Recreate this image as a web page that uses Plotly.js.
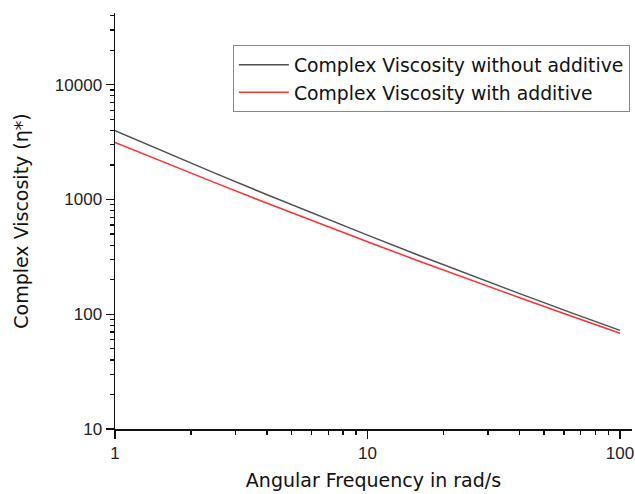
<!DOCTYPE html>
<html>
<head>
<meta charset="utf-8">
<script src="https://cdn.plot.ly/plotly-3.0.1.min.js"></script>
<style>html,body{margin:0;padding:0;background:#fff;}#chart{width:635px;height:494px;}</style>
</head>
<body>
<div id="chart"></div>
<script>
// Angular frequency (rad/s)
const frequency = [1, 1.585, 2.512, 3.981, 6.310, 10, 15.85, 25.12, 39.81, 63.10, 100];
// Complex viscosity without additive
const viscWithout = [3970, 2574, 1680, 1105, 732, 489, 328.6, 222.6, 151.9, 104.4, 72.3];
// Complex viscosity with additive
const viscWith = [3140, 2082, 1388, 932, 630, 428, 292.9, 201.6, 139.8, 97.4, 68.4];
const seriesNames = ["Complex Viscosity without additive", "Complex Viscosity with additive"];
const xTickVals = [1, 10, 100];
const xTickText = ["1", "10", "100"];
const yTickVals = [10, 100, 1000, 10000];
const yTickText = ["10", "100", "1000", "10000"];

function minorVals(lo, hi) {
  const out = [];
  for (let d = lo; d < hi; d++) {
    for (let k = 2; k <= 9; k++) out.push(k * Math.pow(10, d));
  }
  return out;
}

const tickFont = "Liberation Sans, Arial, sans-serif";
const textFont = "DejaVu Sans, Verdana, sans-serif";
const traces = [
  {x: frequency, y: viscWithout, name: seriesNames[0], type: "scatter", mode: "lines",
   line: {color: "#505050", width: 1.5}},
  {x: frequency, y: viscWith, name: seriesNames[1], type: "scatter", mode: "lines",
   line: {color: "#ff3030", width: 1.5}}
];
const layout = {
  width: 635, height: 494,
  margin: {l: 115, r: 3, t: 13, b: 65},
  paper_bgcolor: "#fff", plot_bgcolor: "#fff",
  font: {family: tickFont, color: "#222"},
  showlegend: true,
  legend: {x: 0.228, y: 0.923, xanchor: "left", yanchor: "top",
    bordercolor: "#888", borderwidth: 1, bgcolor: "#fff", itemwidth: 50,
    font: {family: textFont, size: 18.8, color: "#111"}, tracegroupgap: 0},
  xaxis: {type: "log", range: [0, 2.0475], showgrid: false, zeroline: false,
    showline: true, linecolor: "#111", linewidth: 1.5,
    ticks: "outside", ticklen: 8, tickwidth: 1.3, tickcolor: "#111",
    tickmode: "array", tickvals: xTickVals, ticktext: xTickText,
    ticklabeloverflow: "allow",
    tickfont: {family: tickFont, size: 17, color: "#222"},
    minor: {ticks: "outside", ticklen: 4, tickwidth: 1.2, tickcolor: "#111",
      tickmode: "array", tickvals: minorVals(0, 2), showgrid: false},
    title: {text: "Angular Frequency in rad/s", font: {family: textFont, size: 19, color: "#111"}, standoff: 12}},
  yaxis: {type: "log", range: [1, 4.625], showgrid: false, zeroline: false,
    showline: true, linecolor: "#111", linewidth: 1.5,
    ticks: "outside", ticklen: 8, tickwidth: 1.3, tickcolor: "#111",
    tickmode: "array", tickvals: yTickVals, ticktext: yTickText,
    tickfont: {family: tickFont, size: 17, color: "#222"},
    minor: {ticks: "outside", ticklen: 4, tickwidth: 1.2, tickcolor: "#111",
      tickmode: "array", tickvals: minorVals(1, 5), showgrid: false},
    title: {text: "Complex Viscosity (η*)", font: {family: textFont, size: 19, color: "#111"}, standoff: 21}}
};
Plotly.newPlot("chart", traces, layout, {displayModeBar: false, staticPlot: true});
</script>
</body>
</html>
